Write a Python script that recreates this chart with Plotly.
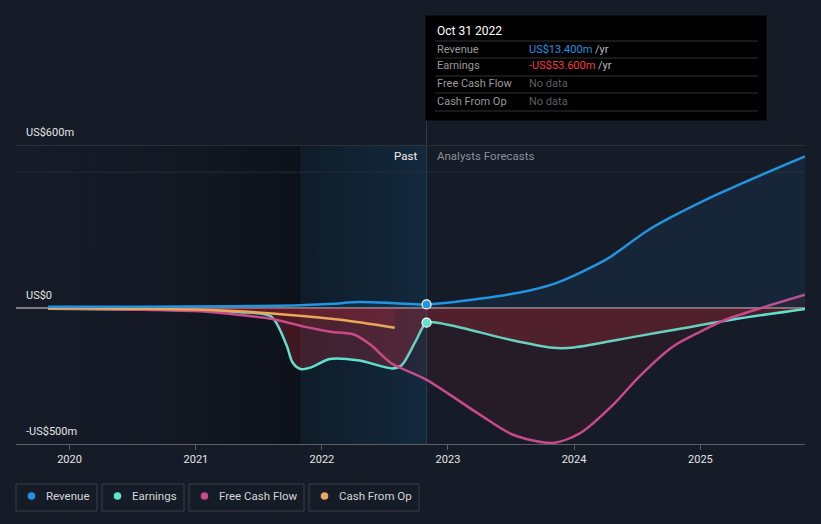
import plotly.graph_objects as go

# ---------------- data ----------------
rev_dates = ["2019-10-31", "2020-07-31", "2021-04-30", "2021-10-31", "2022-01-31",
             "2022-04-20", "2022-07-31", "2022-10-31", "2023-04-01", "2023-08-25",
             "2023-11-10", "2024-04-05", "2024-08-07", "2025-02-17", "2025-10-31"]
rev_vals = [5, 5, 7, 10, 16, 22, 18, 13.4, 34, 65, 92, 180, 290, 417, 558]

earn_dates = ["2019-10-31", "2020-07-01", "2021-01-01", "2021-05-08", "2021-08-07",
              "2021-09-20", "2021-10-08", "2021-10-31", "2021-12-01", "2022-01-24",
              "2022-04-20", "2022-07-24", "2022-08-20", "2022-10-01", "2022-10-31",
              "2023-01-01", "2023-07-01", "2023-10-31", "2024-01-01", "2024-07-01",
              "2024-10-31", "2025-04-01", "2025-10-31"]
earn_vals = [-2, -5, -9, -15, -31, -135, -200, -224, -218, -187, -193, -222, -210,
             -118, -53.6, -61, -117, -146, -145, -104, -77, -43, -3]

fcf_dates = ["2019-10-31", "2020-07-01", "2021-01-01", "2021-05-08", "2021-08-10",
             "2021-11-14", "2022-01-26", "2022-04-05", "2022-05-22", "2022-07-20",
             "2022-10-31", "2023-04-01", "2023-07-08", "2023-10-31", "2024-01-19",
             "2024-04-23", "2024-07-08", "2024-10-12", "2025-01-01", "2025-03-15",
             "2025-10-31"]
fcf_vals = [-1, -5, -11, -25, -40, -69, -87, -98, -135, -202, -264, -390, -466, -496,
            -460, -356, -252, -143, -87, -43, 49]

cfo_dates = ["2019-10-31", "2020-07-01", "2021-01-01", "2021-05-08", "2021-10-01",
             "2022-02-24", "2022-07-31"]
cfo_vals = [-1, -2, -5, -12, -25, -43, -72]

now_date = "2022-10-31"
now_rev = 13.4
now_earn = -53.6
highlight_start = "2021-10-31"
x_start, x_end = "2019-07-30", "2025-10-31"
y_min, y_max = -500, 600
grid_top = 500

year_ticks = ["2020-01-01", "2021-01-01", "2022-01-01", "2023-01-01", "2024-01-01", "2025-01-01"]
year_labels = ["2020", "2021", "2022", "2023", "2024", "2025"]
y_label_vals = [600, 0, -500]
y_label_text = ["US$600m", "US$0", "-US$500m"]

series_names = ["Revenue", "Earnings", "Free Cash Flow", "Cash From Op"]
C_REV, C_EARN, C_FCF, C_CFO = "#2394e0", "#5fe1cd", "#c84a8b", "#e8a75a"
series_colors = [C_REV, C_EARN, C_FCF, C_CFO]

# ---------------- layout geometry ----------------
W, H = 821, 524
ML, MR, MT, MB = 16, 16, 145, 80
PW, PH = W - ML - MR, H - MT - MB
BG = "#151b27"
FONT = "Roboto"


def xp(px):
    return (px - ML) / PW


def yp(py):
    return (H - MB - py) / PH


fig = go.Figure()

# background shading: past (dark gradient) and last-year highlight (blue gradient)
fig.add_trace(go.Scatter(
    x=[x_start, highlight_start, highlight_start, x_start, x_start],
    y=[y_min, y_min, y_max, y_max, y_min], mode="lines", line=dict(width=0),
    fill="toself", hoverinfo="skip", showlegend=False,
    fillgradient=dict(type="horizontal",
                      colorscale=[[0, "rgba(0,0,0,0)"], [0.5, "rgba(0,0,0,0.08)"],
                                  [1, "rgba(0,0,0,0.36)"]])))
fig.add_trace(go.Scatter(
    x=[highlight_start, now_date, now_date, highlight_start, highlight_start],
    y=[y_min, y_min, y_max, y_max, y_min], mode="lines", line=dict(width=0),
    fill="toself", hoverinfo="skip", showlegend=False,
    fillgradient=dict(type="horizontal",
                      colorscale=[[0, "#0f1c29"], [1, "#13293d"]])))

# horizontal reference lines
for yv, col, wd in [(y_max, "#40454d", 1), (grid_top, "#262b34", 1), (0, "#a09a9c", 1.5)]:
    fig.add_trace(go.Scatter(x=[x_start, x_end], y=[yv, yv], mode="lines",
                             line=dict(color=col, width=wd), hoverinfo="skip",
                             showlegend=False))
# vertical "now" line inside the plot
fig.add_trace(go.Scatter(x=[now_date, now_date], y=[y_min, y_max], mode="lines",
                         line=dict(color="#2b3e4f", width=1), hoverinfo="skip",
                         showlegend=False))

common = dict(mode="lines", line_shape="spline", hoverinfo="skip", showlegend=False)
fig.add_trace(go.Scatter(x=earn_dates, y=earn_vals, fill="tozeroy",
                         fillcolor="rgba(220,45,60,0.24)",
                         line=dict(color=C_EARN, width=2.5, smoothing=0.8), **common))
fig.add_trace(go.Scatter(x=fcf_dates, y=fcf_vals, fill="tozeroy",
                         fillcolor="rgba(215,45,60,0.09)",
                         line=dict(color=C_FCF, width=2.5, smoothing=0.8), **common))
fig.add_trace(go.Scatter(x=cfo_dates, y=cfo_vals, fill="tozeroy",
                         fillcolor="rgba(220,45,60,0.14)",
                         line=dict(color=C_CFO, width=2.5, smoothing=0.8), **common))
fig.add_trace(go.Scatter(x=rev_dates, y=rev_vals, fill="tozeroy",
                         fillcolor="rgba(35,148,224,0.09)",
                         line=dict(color=C_REV, width=2.5, smoothing=0.8), **common))

# markers at the hovered date
fig.add_trace(go.Scatter(x=[now_date, now_date], y=[now_rev, now_earn], mode="markers",
                         marker=dict(size=9, color=[C_REV, C_EARN],
                                     line=dict(color="white", width=1.2)),
                         hoverinfo="skip", showlegend=False))

ann = []
shapes = []

# vertical "now" line above the plot up to the tooltip
shapes.append(dict(type="line", xref="x", yref="paper", x0=now_date, x1=now_date,
                   y0=1, y1=yp(120), line=dict(color="#2b3e4f", width=1), layer="below"))

# y labels
for v, t in zip(y_label_vals, y_label_text):
    ann.append(dict(x=xp(24), xref="paper", y=v, yref="y", text=t, showarrow=False,
                    xanchor="left", yanchor="bottom", yshift=4,
                    font=dict(family=FONT, size=11, color="#e6e6e6")))

# Past / Forecast labels
ann.append(dict(x=now_date, xref="x", y=yp(156), yref="paper", text="Past", showarrow=False,
                xanchor="right", yanchor="middle", xshift=-8,
                font=dict(family=FONT, size=11.5, color="#f0f0f0")))
ann.append(dict(x=now_date, xref="x", y=yp(156), yref="paper", text="Analysts Forecasts",
                showarrow=False, xanchor="left", yanchor="middle", xshift=8,
                font=dict(family=FONT, size=11.5, color="#8a9099")))

# tooltip box
shapes.append(dict(type="rect", xref="paper", yref="paper", x0=xp(426), x1=xp(766),
                   y0=yp(120), y1=yp(16), fillcolor="black", opacity=1,
                   line=dict(color="black", width=1), layer="above"))
for sy in [41, 58, 76, 93, 111]:
    shapes.append(dict(type="line", xref="paper", yref="paper", x0=xp(435), x1=xp(758),
                       y0=yp(sy), y1=yp(sy), line=dict(color="#333333", width=1),
                       layer="above"))
ann.append(dict(x=xp(435), y=yp(31), xref="paper", yref="paper", text="Oct 31 2022",
                showarrow=False, xanchor="left", yanchor="middle",
                font=dict(family=FONT, size=12, color="#ffffff")))
tip_values = ["<span style='color:#2394e0'>US$13.400m</span> /yr",
              "<span style='color:#f03c3c'>-US$53.600m</span> /yr",
              "<span style='color:#5f5f5f'>No data</span>",
              "<span style='color:#5f5f5f'>No data</span>"]
for row_y, lab, val in zip([49, 66, 84, 101], series_names, tip_values):
    ann.append(dict(x=xp(435), y=yp(row_y), xref="paper", yref="paper", text=lab,
                    showarrow=False, xanchor="left", yanchor="middle",
                    font=dict(family=FONT, size=11, color="#9a9a9a")))
    ann.append(dict(x=xp(527), y=yp(row_y), xref="paper", yref="paper", text=val,
                    showarrow=False, xanchor="left", yanchor="middle",
                    font=dict(family=FONT, size=11, color="#bbbbbb")))

# legend boxes
leg_boxes = [(16, 97), (102, 184), (189, 304), (309, 419)]
for (bx0, bx1), name, col in zip(leg_boxes, series_names, series_colors):
    shapes.append(dict(type="rect", xref="paper", yref="paper", x0=xp(bx0), x1=xp(bx1),
                       y0=yp(511), y1=yp(484), line=dict(color="#3a3f48", width=1),
                       fillcolor="rgba(0,0,0,0)", layer="above"))
    cx = bx0 + 15.5
    shapes.append(dict(type="circle", xref="paper", yref="paper", x0=xp(cx - 3.8),
                       x1=xp(cx + 3.8), y0=yp(496 + 3.8), y1=yp(496 - 3.8),
                       fillcolor=col, line=dict(width=0), layer="above"))
    ann.append(dict(x=xp(bx0 + 28), y=yp(496), xref="paper", yref="paper", text=name,
                    showarrow=False, xanchor="left", yanchor="middle",
                    font=dict(family=FONT, size=11.5, color="#d6d6d6")))

fig.layout.shapes = shapes
fig.layout.annotations = ann
fig.update_layout(
    width=W, height=H, margin=dict(l=ML, r=MR, t=MT, b=MB, pad=0),
    paper_bgcolor=BG, plot_bgcolor=BG, showlegend=False,
    xaxis=dict(type="date", range=[x_start, x_end], tickvals=year_ticks,
               ticktext=year_labels, showgrid=False, zeroline=False, showline=True,
               linecolor="#5a5f66", linewidth=1, ticks="outside", ticklen=5,
               tickcolor="#5a5f66", tickfont=dict(family=FONT, size=11, color="#e6e6e6"),
               fixedrange=True),
    yaxis=dict(range=[y_min, y_max], showgrid=False, zeroline=False,
               showticklabels=False, fixedrange=True),
)

fig.write_html("out.html")
